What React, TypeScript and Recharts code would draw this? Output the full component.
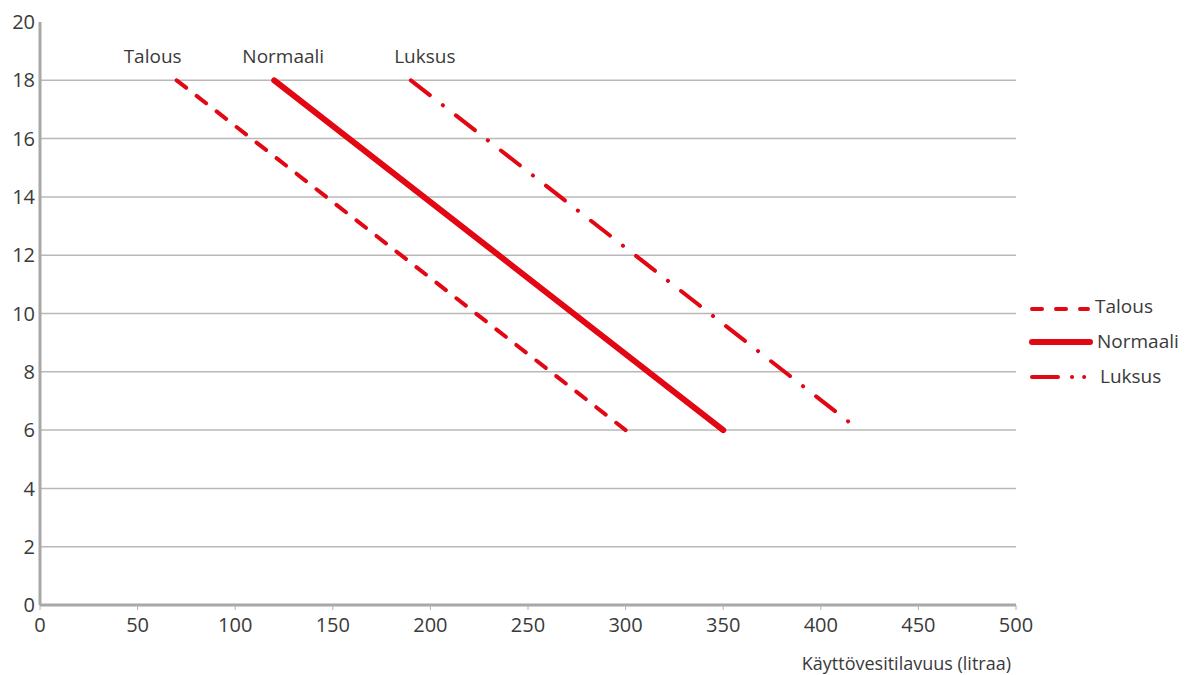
import React from 'react';
import {
  LineChart,
  Line,
  CartesianGrid,
  XAxis,
  YAxis,
  Legend,
} from 'recharts';

// Käyttövesitilavuus (litraa) vs. y-arvo, kolme käyttöprofiilia
const talousData = [
  { x: 70, y: 18 },
  { x: 300, y: 6 },
];
const normaaliData = [
  { x: 120, y: 18 },
  { x: 350, y: 6 },
];
const luksusData = [
  { x: 190, y: 18 },
  { x: 414, y: 6.3 },
];

const xTicks = [0, 50, 100, 150, 200, 250, 300, 350, 400, 450, 500];
const yTicks = [0, 2, 4, 6, 8, 10, 12, 14, 16, 18, 20];
const gridValues = [2, 4, 6, 8, 10, 12, 14, 16, 18];

const RED = '#e30613';
const TEXT = '#3a3a3a';
const FONT = '"Open Sans", "Noto Sans", sans-serif';

// nimi käyrän alkupään yläpuolelle
const startLabel = (name: string, dx: number) => (props: any) => {
  if (props.index !== 0) return null;
  return (
    <text
      x={props.x + dx}
      y={props.y - 17}
      textAnchor="middle"
      fontSize={19}
      fontFamily={FONT}
      fill={TEXT}
    >
      {name}
    </text>
  );
};

const LegendBox = () => (
  <svg width={170} height={100} style={{ fontFamily: FONT }}>
    <line x1={8} y1={19} x2={64} y2={19} stroke={RED} strokeWidth={4}
      strokeLinecap="round" strokeDasharray="10 14" />
    <text x={71} y={23} fontSize={19} fill={TEXT}>Talous</text>
    <line x1={8} y1={52} x2={66} y2={52} stroke={RED} strokeWidth={6}
      strokeLinecap="round" />
    <text x={73} y={58} fontSize={19} fill={TEXT}>Normaali</text>
    <line x1={8} y1={87} x2={65} y2={87} stroke={RED} strokeWidth={4}
      strokeLinecap="round" strokeDasharray="26 14 0.1 12 0.1 20" />
    <text x={76} y={93} fontSize={19} fill={TEXT}>Luksus</text>
  </svg>
);

const App: React.FC = () => {
  return (
    <div style={{ position: 'absolute', left: 0, top: 0, background: '#fff' }}>
      <LineChart
        width={1191}
        height={675}
        margin={{ top: 22, right: 175, left: 0, bottom: 0 }}
      >
        <CartesianGrid
          vertical={false}
          horizontalValues={gridValues}
          stroke="#b8b8b8"
          strokeWidth={1.5}
        />
        <XAxis
          type="number"
          dataKey="x"
          domain={[0, 500]}
          ticks={xTicks}
          height={70}
          axisLine={{ stroke: '#a8a8a8', strokeWidth: 3 }}
          tickLine={{ stroke: '#b0b0b0' }}
          tickSize={5}
          tickMargin={8}
          tick={{ fontSize: 20, fill: TEXT, fontFamily: FONT }}
          label={{
            value: 'Käyttövesitilavuus (litraa)',
            position: 'insideBottomRight',
            offset: 5,
            fontSize: 18,
            fill: TEXT,
            fontFamily: FONT,
          }}
          allowDuplicatedCategory={false}
        />
        <YAxis
          type="number"
          dataKey="y"
          domain={[0, 20]}
          ticks={yTicks}
          width={40}
          axisLine={{ stroke: '#a8a8a8', strokeWidth: 3 }}
          tickLine={false}
          tickSize={0}
          tickMargin={5}
          tick={{ fontSize: 20, fill: TEXT, fontFamily: FONT }}
        />
        <Legend
          layout="vertical"
          align="center"
          verticalAlign="middle"
          wrapperStyle={{ left: 1024, top: 290, width: 170 }}
          content={() => <LegendBox />}
        />
        <Line
          data={talousData}
          dataKey="y"
          name="Talous"
          stroke={RED}
          strokeWidth={4}
          strokeLinecap="round"
          strokeDasharray="12 13.33"
          dot={false}
          activeDot={false}
          label={startLabel('Talous', -24)}
          isAnimationActive={false}
        />
        <Line
          data={normaaliData}
          dataKey="y"
          name="Normaali"
          stroke={RED}
          strokeWidth={6}
          strokeLinecap="round"
          dot={false}
          activeDot={false}
          label={startLabel('Normaali', 9)}
          isAnimationActive={false}
        />
        <Line
          data={luksusData}
          dataKey="y"
          name="Luksus"
          stroke={RED}
          strokeWidth={4}
          strokeLinecap="round"
          strokeDasharray="24 16.5 0.1 16.5"
          dot={false}
          activeDot={false}
          label={startLabel('Luksus', 14)}
          isAnimationActive={false}
        />
      </LineChart>
    </div>
  );
};

export default App;
